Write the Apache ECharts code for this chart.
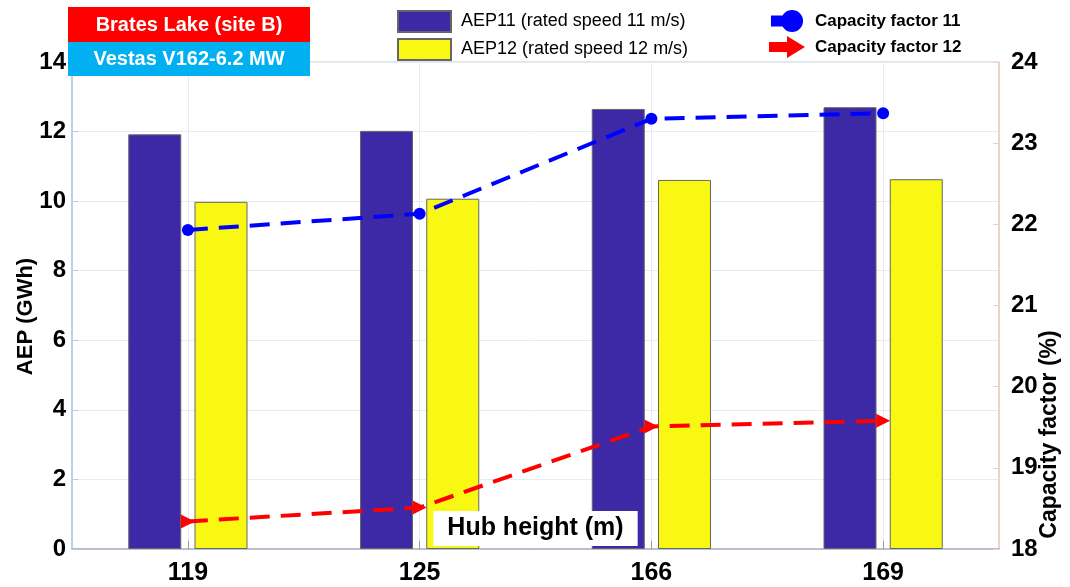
<!DOCTYPE html>
<html>
<head>
<meta charset="utf-8">
<script src="https://cdn.jsdelivr.net/npm/echarts@6/dist/echarts.min.js"></script>
<style>
  html, body { margin: 0; padding: 0; background: #fff; }
  #chart { width: 1070px; height: 587px; }
</style>
</head>
<body>
<div id="chart"></div>
<script>
// Hub heights (m)
const hubHeights = ['119', '125', '166', '169'];
// Annual energy production (GWh)
const aep11 = [11.92, 12.02, 12.65, 12.70];
const aep12 = [9.98, 10.07, 10.61, 10.63];
// Capacity factor (%)
const cf11 = [21.93, 22.13, 23.30, 23.37];
const cf12 = [18.34, 18.51, 19.51, 19.58];

const FONT = '"Liberation Sans", Arial, sans-serif';

const chart = echarts.init(document.getElementById('chart'), null, { renderer: 'canvas' });

const pinIcon = 'path://M0,5 L22,5 L22,17 L0,17 Z M11,11 A12,12 0 1,1 35,11 A12,12 0 1,1 11,11 Z';
const arrowIcon = 'path://M0,6 L20,6 L20,16 L0,16 Z M18,0 L36,11 L18,22 Z';

chart.setOption({
  backgroundColor: '#ffffff',
  animation: false,
  grid: {
    left: 72, right: 71, top: 62, bottom: 38,
    outerBoundsMode: 'none', containLabel: false,
    show: true, borderColor: '#c8c8c8', borderWidth: 1, backgroundColor: 'transparent'
  },
  graphic: [
    { type: 'rect', left: 68, top: 7, shape: { width: 242, height: 35 }, style: { fill: '#ff0000' }, z: 20 },
    { type: 'rect', left: 68, top: 42, shape: { width: 242, height: 34 }, style: { fill: '#00b0f0' }, z: 20 },
    { type: 'text', x: 189, y: 25, z: 21, style: { text: 'Brates Lake (site B)', fill: '#fff', font: 'bold 20px ' + FONT, align: 'center', verticalAlign: 'middle' } },
    { type: 'text', x: 189, y: 59, z: 21, style: { text: 'Vestas V162-6.2 MW', fill: '#fff', font: 'bold 20px ' + FONT, align: 'center', verticalAlign: 'middle' } }
  ],
  legend: [
    {
      data: [
        { name: 'AEP11 (rated speed 11 m/s)', icon: 'rect' },
        { name: 'AEP12 (rated speed 12 m/s)', icon: 'rect' }
      ],
      orient: 'vertical', left: 392, top: 5,
      itemWidth: 53, itemHeight: 21, itemGap: 5,
      textStyle: { fontFamily: FONT, fontSize: 18, color: '#000', padding: [0, 0, 0, 5] }
    },
    {
      data: [
        { name: 'Capacity factor 11', icon: pinIcon },
        { name: 'Capacity factor 12', icon: arrowIcon }
      ],
      orient: 'vertical', left: 764, top: 5,
      itemWidth: 36, itemHeight: 22, itemGap: 4,
      textStyle: { fontFamily: FONT, fontSize: 17, fontWeight: 'bold', color: '#000', padding: [0, 0, 0, 5] }
    }
  ],
  xAxis: [
    {
      type: 'category',
      data: hubHeights,
      axisLine: { show: true, lineStyle: { color: '#a8b4c0', width: 1.5 } },
      axisTick: { show: true, inside: true, alignWithLabel: true, length: 8, lineStyle: { color: '#999' } },
      splitLine: { show: true, alignWithLabel: true, lineStyle: { color: '#e6ecf2', width: 1 } },
      axisLabel: { fontFamily: FONT, fontSize: 25, fontWeight: 'bold', color: '#000', margin: 12 }
    },
    {
      // overlay axis carrying only the boxed axis title, drawn above the bars
      type: 'category',
      data: hubHeights,
      position: 'bottom',
      z: 10,
      name: 'Hub height (m)',
      nameLocation: 'middle',
      nameGap: -38,
      nameMoveOverlap: false,
      nameTextStyle: {
        fontFamily: FONT, fontSize: 25, fontWeight: 'bold', color: '#000',
        backgroundColor: '#ffffff', padding: [5, 14, 5, 14]
      },
      axisLine: { show: false },
      axisTick: { show: false },
      axisLabel: { show: false },
      splitLine: { show: false }
    }
  ],
  yAxis: [
    {
      type: 'value', min: 0, max: 14, interval: 2,
      name: 'AEP (GWh)', nameLocation: 'middle', nameGap: 35, nameRotate: 90, nameMoveOverlap: false,
      nameTextStyle: { fontFamily: FONT, fontSize: 22, fontWeight: 'bold', color: '#000', padding: [0, 22, 0, 0] },
      axisLine: { show: true, lineStyle: { color: '#a9cdeb', width: 1.5 } },
      axisTick: { show: true, inside: true, length: 6, lineStyle: { color: '#a9cdeb' } },
      splitLine: { show: true, lineStyle: { color: '#e3ecf5', width: 1 } },
      axisLabel: { fontFamily: FONT, fontSize: 24, fontWeight: 'bold', color: '#000', margin: 6 }
    },
    {
      type: 'value', min: 18, max: 24, interval: 1, position: 'right',
      name: 'Capacity factor (%)', nameLocation: 'middle', nameGap: 39, nameRotate: 90, nameMoveOverlap: false,
      nameTextStyle: { fontFamily: FONT, fontSize: 23, fontWeight: 'bold', color: '#000', padding: [0, 258, 0, 0] },
      axisLine: { show: true, lineStyle: { color: '#f5cdc6', width: 1.5 } },
      axisTick: { show: true, inside: true, length: 6, lineStyle: { color: '#f5cdc6' } },
      splitLine: { show: false },
      axisLabel: { fontFamily: FONT, fontSize: 24, fontWeight: 'bold', color: '#000', margin: 12 }
    }
  ],
  series: [
    {
      name: 'AEP11 (rated speed 11 m/s)', type: 'bar', yAxisIndex: 0,
      data: aep11, barWidth: 53, barGap: '25%',
      itemStyle: { color: '#3d28a6', borderColor: '#666', borderWidth: 1 }
    },
    {
      name: 'AEP12 (rated speed 12 m/s)', type: 'bar', yAxisIndex: 0,
      data: aep12, barWidth: 53, barGap: '25%',
      itemStyle: { color: '#f8f812', borderColor: '#666', borderWidth: 1 }
    },
    {
      name: 'Capacity factor 11', type: 'line', yAxisIndex: 1, z: 3,
      data: cf11, symbol: 'circle', symbolSize: 12,
      itemStyle: { color: '#0000ff' },
      lineStyle: { color: '#0000ff', width: 4, type: [20, 11] }
    },
    {
      name: 'Capacity factor 12', type: 'line', yAxisIndex: 1, z: 3,
      data: cf12, symbol: 'triangle', symbolRotate: -90, symbolSize: 14,
      itemStyle: { color: '#ff0000' },
      lineStyle: { color: '#ff0000', width: 4, type: [20, 11] }
    }
  ]
});
</script>
</body>
</html>
